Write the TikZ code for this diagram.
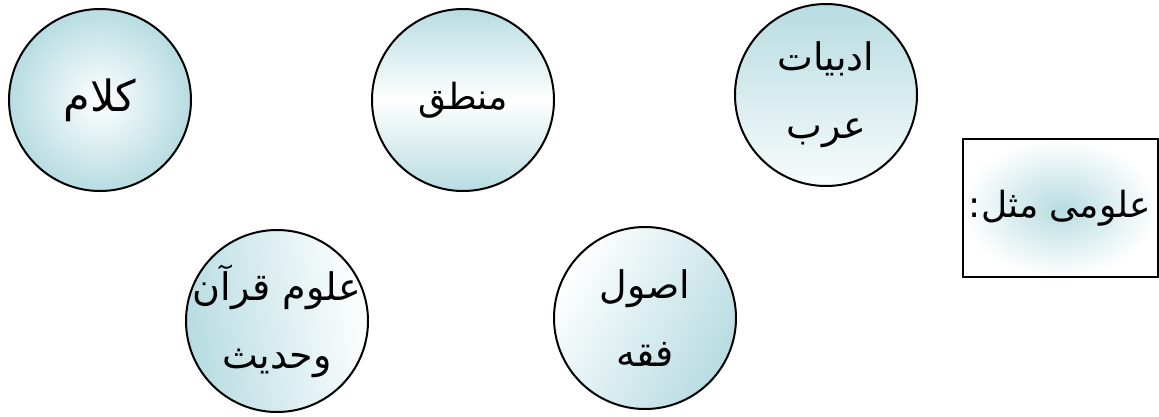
\documentclass[tikz,border=0pt]{standalone}
\usepackage{fontspec}
\newfontfamily\arabicfont[Script=Arabic]{DejaVu Sans}
\TeXXeTstate=1
\definecolor{tealc}{RGB}{183,220,225}
\begin{document}
\begin{tikzpicture}[x=1pt,y=-1pt,
  arabic/.style={font=\arabicfont\fontsize{38}{68}\selectfont},
  bubble/.style={circle,draw=black,line width=2pt,minimum size=182pt,inner sep=0pt},
  txt/.style={inner sep=0pt,align=center,arabic},
  labelbox/.style={rectangle,draw=black,line width=2pt,minimum width=195pt,minimum height=138pt,inner sep=0pt,align=center,arabic}
]
\useasboundingbox (0,0) rectangle (1159,416);
\node[bubble, inner color=white, outer color=tealc] (kalam) at (100,100) {};
\node[txt, font=\arabicfont\fontsize{43}{68}\selectfont] (kalamT) at (kalam.center) {\beginR كلام\endR};
\node[bubble, top color=tealc, bottom color=tealc, middle color=white] (mantiq) at (463,100) {};
\node[txt, font=\arabicfont\fontsize{36}{68}\selectfont] (mantiqT) at (mantiq.center) {\beginR منطق\endR};
\node[bubble, top color=tealc, bottom color=white!90!tealc] (adab) at (826,95) {};
\node[txt] (adabT) at (adab.center) {\beginR ادبيات\endR\\\beginR عرب\endR};
\node[bubble, left color=tealc, right color=white, shading angle=100] (quran) at (277,321) {};
\node[txt] (quranT) at (quran.center) {\beginR علوم قرآن\endR\\\beginR وحديث\endR};
\node[bubble, left color=white, right color=tealc, shading angle=60] (usul) at (645,318) {};
\node[txt] (usulT) at (usul.center) {\beginR اصول\endR\\\beginR فقه\endR};
\node[labelbox, inner color=tealc, outer color=white, font=\arabicfont\fontsize{36}{68}\selectfont] (box) at (1060,208) {\beginR علومی مثل:\endR};
\end{tikzpicture}
\end{document}
